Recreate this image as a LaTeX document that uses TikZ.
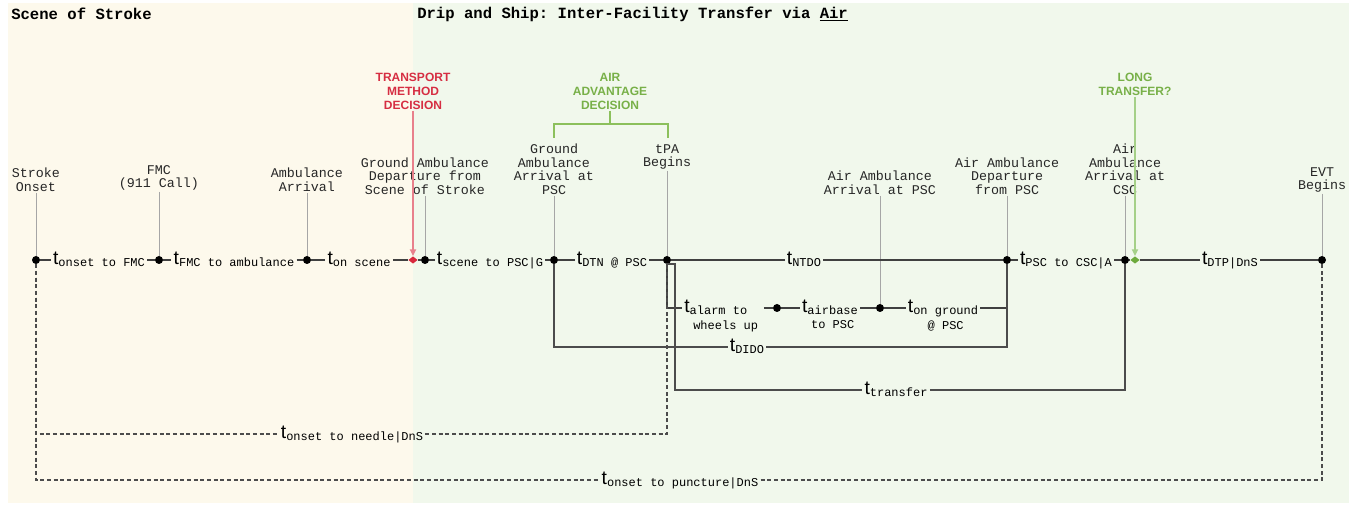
\documentclass[tikz,border=0pt]{standalone}
\usepackage{fontspec}
\setmainfont{Liberation Sans}
\setmonofont{Liberation Mono}
\usepackage{tikz}
\usetikzlibrary{arrows.meta, positioning, shapes.geometric}

\definecolor{cream}{HTML}{FDF9EC}
\definecolor{mint}{HTML}{F1F8EC}
\definecolor{redtxt}{HTML}{D62E42}
\definecolor{redln}{HTML}{E8808C}
\definecolor{reddia}{HTML}{D8283C}
\definecolor{greentxt}{HTML}{78B048}
\definecolor{greenln}{HTML}{A5D088}
\definecolor{greendia}{HTML}{6DAA3C}
\definecolor{bracketln}{HTML}{8CC05C}

% time interval label: big t with a mono subscript
\newcommand{\tvar}[1]{{\fontsize{14.5}{14.5}\selectfont t}\raisebox{-1.5pt}{\ttfamily\fontsize{9}{9}\selectfont #1}}
\newcommand{\tvarii}[2]{{\fontsize{14.5}{14.5}\selectfont t}\raisebox{-1.5pt}{\ttfamily\fontsize{9}{9}\selectfont\begin{tabular}[t]{@{}c@{}}#1\\[1.5pt]#2\end{tabular}}}

\begin{document}
\begin{tikzpicture}[
    x=0.75pt, y=-0.75pt,
    evdot/.style={circle, fill=black, inner sep=0pt, minimum size=6pt},
    evlabel/.style={align=center, anchor=south, inner sep=1pt, text=black!85, font=\ttfamily\fontsize{10}{10.2}\selectfont},
    decision/.style={align=center, anchor=south, inner sep=1pt, font=\bfseries\fontsize{9}{10.5}\selectfont},
    heading/.style={anchor=west, inner sep=0pt, font=\ttfamily\bfseries\fontsize{11.7}{12}\selectfont},
    tval/.style={inner xsep=1.5pt, inner ysep=0pt, text height=8pt, text depth=0.5pt},
    stem/.style={draw=black!35, line width=0.7pt},
    seg/.style={draw=black!75, line width=0.8pt},
    segb/.style={draw=black!70, line width=1.1pt},
    dashseg/.style={draw=black!70, line width=0.8pt, dash pattern=on 3pt off 2pt},
    decmark/.style={diamond, inner sep=0pt, minimum width=7pt, minimum height=5.5pt}
]
    \useasboundingbox (0,0) rectangle (1357,505);

    % two phases
    \fill[cream] (8,3) rectangle (413,503);
    \fill[mint] (413,3) rectangle (1349,503);
    \node[heading] (hScene) at (11,14) {Scene of Stroke};
    \node[heading] (hDrip) at (417,14) {Drip and Ship: Inter-Facility Transfer via \underline{Air}};

    % events on the main line
    \node[evdot] (dOnset) at (36,260) {};
    \node[evdot] (dFMC) at (159,260) {};
    \node[evdot] (dAmb) at (307,260) {};
    \node[decmark, fill=reddia] (rDec) at (413,260) {};
    \node[evdot] (dGDep) at (425,260) {};
    \node[evdot] (dGArr) at (554,260) {};
    \node[evdot] (dTPA) at (667,260) {};
    \node[evdot] (dPDep) at (1007,260) {};
    \node[evdot] (dCArr) at (1125,260) {};
    \node[decmark, fill=greendia] (gDec) at (1135,260) {};
    \node[evdot] (dEVT) at (1322,260) {};
    % air ambulance row
    \node[evdot] (dWheels) at (777,308) {};
    \node[evdot] (dAirPSC) at (880,308) {};
    \coordinate (cGround) at (1007,308);
    \coordinate (trTop) at (675,264);

    % event names
    \node[evlabel] (eOnset) at (36,193) {Stroke\\Onset};
    \node[evlabel] (eFMC) at (159,192) {FMC\\(911 Call)};
    \node[evlabel] (eAmb) at (307,193) {Ambulance\\Arrival};
    \node[evlabel] (eGDep) at (425,196) {Ground Ambulance\\Departure from\\Scene of Stroke};
    \node[evlabel] (eGArr) at (554,196) {Ground\\Ambulance\\Arrival at\\PSC};
    \node[evlabel] (eTPA) at (667,171) {tPA\\Begins};
    \node[evlabel] (eAPSC) at (880,196) {Air Ambulance\\Arrival at PSC};
    \node[evlabel] (ePDep) at (1007,196) {Air Ambulance\\Departure\\from PSC};
    \node[evlabel] (eCArr) at (1125,196) {Air\\Ambulance\\Arrival at\\CSC};
    \node[evlabel] (eEVT) at (1322,194) {EVT\\Begins};

    \draw[stem] (eOnset) -- (dOnset);
    \draw[stem] (eFMC) -- (dFMC);
    \draw[stem] (eAmb) -- (dAmb);
    \draw[stem] (eGDep) -- (dGDep);
    \draw[stem] (eGArr) -- (dGArr);
    \draw[stem] (eTPA) -- (dTPA);
    \draw[stem] (eAPSC) -- (dAirPSC);
    \draw[stem] (ePDep) -- (dPDep);
    \draw[stem] (eCArr) -- (dCArr);
    \draw[stem] (eEVT) -- (dEVT);

    % decisions
    \node[decision, text=redtxt] (transDec) at (413,111) {TRANSPORT\\METHOD\\DECISION};
    \node[decision, text=greentxt] (advDec) at (610,111) {AIR\\ADVANTAGE\\DECISION};
    \node[decision, text=greentxt] (longTr) at (1135,97) {LONG\\TRANSFER?};
    \draw[redln, line width=1.4pt, -{Triangle[length=5pt, width=4.5pt]}] (transDec) -- (rDec);
    \draw[greenln, line width=1.4pt, -{Triangle[length=5pt, width=4.5pt]}] (longTr) -- (gDec);
    \coordinate (brM) at (610,124);
    \coordinate (brL) at (554,138);
    \coordinate (brR) at (668,138);
    \draw[bracketln, line width=1.6pt] (advDec) -- (brM);
    \draw[bracketln, line width=1.6pt] (brL) |- (brM) -| (brR);

    % intervals
    \node[tval] (tOnFMC) at (99,260) {\tvar{onset to FMC}};
    \node[tval] (tFMCAmb) at (234,260) {\tvar{FMC to ambulance}};
    \node[tval] (tOnScene) at (359,260) {\tvar{on scene}};
    \node[tval] (tSceneG) at (490,260) {\tvar{scene to PSC|G}};
    \node[tval] (tDTN) at (612,260) {\tvar{DTN @ PSC}};
    \node[tval] (tNTDO) at (804,260) {\tvar{NTDO}};
    \node[tval] (tPSCCSC) at (1066,260) {\tvar{PSC to CSC|A}};
    \node[tval] (tDTP) at (1230,260) {\tvar{DTP|DnS}};
    \node[tval] (tAlarm) at (723,308) {\tvarii{alarm to\phantom{xx}}{wheels up}};
    \node[tval] (tAirbase) at (830,308) {\tvarii{airbase}{to PSC}};
    \node[tval] (tGround) at (943,308) {\tvarii{on ground}{@ PSC}};
    \node[tval] (tDIDO) at (747,347) {\tvar{DIDO}};
    \node[tval] (tTransfer) at (896,390) {\tvar{transfer}};
    \node[tval] (tNeedle) at (352,434) {\tvar{onset to needle|DnS}};
    \node[tval] (tPuncture) at (680,480) {\tvar{onset to puncture|DnS}};

    \draw[seg] (dOnset) -- (tOnFMC) -- (dFMC) -- (tFMCAmb) -- (dAmb) -- (tOnScene) -- (rDec) -- (dGDep)
        -- (tSceneG) -- (dGArr) -- (tDTN) -- (dTPA) -- (tNTDO) -- (dPDep) -- (tPSCCSC) -- (dCArr) -- (gDec)
        -- (tDTP) -- (dEVT);
    \draw[seg] (dTPA) |- (tAlarm) -- (dWheels) -- (tAirbase) -- (dAirPSC) -- (tGround) -- (cGround);
    \draw[segb] (dGArr) |- (tDIDO) -| (dPDep);
    \draw[segb] (dTPA) |- (trTop) |- (tTransfer) -| (dCArr);
    \draw[dashseg] (dOnset) |- (tNeedle) -| (dTPA);
    \draw[dashseg] (dOnset) |- (tPuncture) -| (dEVT);
\end{tikzpicture}
\end{document}
